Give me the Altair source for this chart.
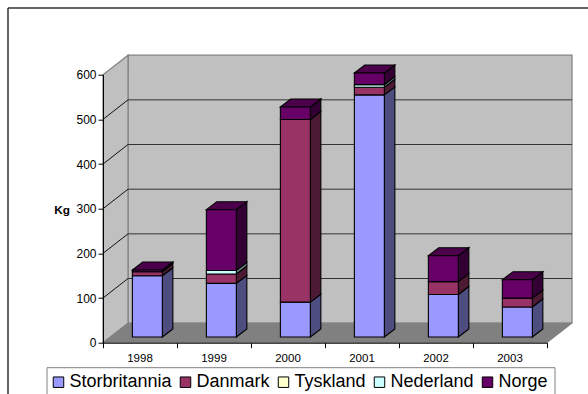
import altair as alt
import pandas as pd

# Imported quantity per year and country, in kg
years = ["1998", "1999", "2000", "2001", "2002", "2003"]
countries = ["Storbritannia", "Danmark", "Tyskland", "Nederland", "Norge"]
storbritannia = [137, 120, 78, 542, 95, 67]
danmark = [9, 21, 409, 17, 29, 20]
tyskland = [0, 0, 0, 0, 0, 0]
nederland = [0, 8, 0, 6, 0, 0]
norge = [4, 136, 28, 26, 58, 41]
series = [storbritannia, danmark, tyskland, nederland, norge]
front_colors = ["#9999FF", "#993366", "#FFFFCC", "#CCFFFF", "#660066"]
side_colors = ["#4D4D80", "#4D1A33", "#808066", "#668080", "#330033"]
top_color = "#4C004C"

y_ticks = [0, 100, 200, 300, 400, 500, 600]
y_top = 600

# Oblique projection, expressed in axis units (category slots and kg)
wall_dx, wall_dy = 0.338, 43.7
bar_left, bar_width = 0.397, 0.405
bar_dx, bar_dy = 0.142, 17.9
bar_base = 12.8

n = len(years)
year_lookup = "[" + ",".join(f"'{y}'" for y in years) + "]"

# Both axes sit on the front plane of the chart
X = alt.X(
    "x:Q",
    scale=alt.Scale(domain=[0, n], nice=False, zero=False),
    axis=alt.Axis(
        values=list(range(n + 1)),
        labelExpr=f"{year_lookup}[datum.value] || ''",
        labelOffset=36.5,
        labelFlush=False,
        labelOverlap=False,
        labelFont="Liberation Sans",
        labelFontSize=11.5,
        labelColor="black",
        labelPadding=5,
        tickSize=5,
        tickColor="black",
        domainColor="black",
        grid=False,
        title=None,
        zindex=1,
    ),
)
Y = alt.Y(
    "y:Q",
    scale=alt.Scale(domain=[0, y_top], nice=False, zero=False),
    axis=alt.Axis(
        values=y_ticks,
        labelFont="Liberation Sans",
        labelFontSize=12,
        labelColor="black",
        labelPadding=2,
        tickSize=5,
        tickColor="black",
        domainColor="black",
        grid=False,
        title="Kg",
        titleFont="Liberation Sans",
        titleFontSize=11.8,
        titleFontWeight="bold",
        titleColor="black",
        titleAngle=0,
        titleAlign="center",
        titleBaseline="middle",
        titleX=-41.5,
        titleY=134.3,
        zindex=1,
    ),
)

# Walls and floor
back_df = pd.DataFrame([{"x": wall_dx, "x2": n + wall_dx, "y": wall_dy, "y2": y_top + wall_dy}])
back = alt.Chart(back_df).mark_rect(fill="#C0C0C0", stroke="#808080", strokeWidth=1.2).encode(
    x=X, x2="x2:Q", y=Y, y2="y2:Q"
)
side_df = pd.DataFrame([
    {"x": 0, "y": 0, "y2": y_top},
    {"x": wall_dx, "y": wall_dy, "y2": y_top + wall_dy},
])
side_wall = alt.Chart(side_df).mark_area(fill="#C0C0C0", stroke="#808080", strokeWidth=1.2).encode(
    x=X, y=Y, y2="y2:Q"
)
floor_df = pd.DataFrame([
    {"x": 0, "x2": n, "y": 0},
    {"x": wall_dx, "x2": n + wall_dx, "y": wall_dy},
])
floor = alt.Chart(floor_df).mark_area(
    orient="horizontal", fill="#808080", stroke="#808080", strokeWidth=1
).encode(x=X, x2="x2:Q", y=Y)

# Gridlines along the back wall and across the side wall
back_grid_df = pd.DataFrame(
    [{"x": wall_dx, "x2": n + wall_dx, "y": t + wall_dy, "y2": t + wall_dy} for t in y_ticks[1:-1]]
)
side_grid_df = pd.DataFrame(
    [{"x": 0, "x2": wall_dx, "y": t, "y2": t + wall_dy} for t in y_ticks[1:-1]]
)
grid_back = alt.Chart(back_grid_df).mark_rule(color="#333333", strokeWidth=1).encode(
    x=X, x2="x2:Q", y=Y, y2="y2:Q"
)
grid_side = alt.Chart(side_grid_df).mark_rule(color="#111111", strokeWidth=1).encode(
    x=X, x2="x2:Q", y=Y, y2="y2:Q"
)

# Stacked segments per year
fronts, sides, tops = [], [], []
for i, year in enumerate(years):
    base = bar_base
    left = i + bar_left
    right = left + bar_width
    last = max(k for k in range(len(countries)) if series[k][i] > 0)
    for k, country in enumerate(countries):
        value = series[k][i]
        if value <= 0:
            continue
        fronts.append({"x": left, "x2": right, "y": base, "y2": base + value, "country": country})
        key = f"{year}-{country}"
        sides.append({"x": right, "y": base, "y2": base + value, "key": key, "shade": side_colors[k]})
        sides.append({"x": right + bar_dx, "y": base + bar_dy, "y2": base + value + bar_dy,
                      "key": key, "shade": side_colors[k]})
        if k == last:
            top = base + value
            tops.append({"x": left, "x2": right, "y": top, "key": year})
            tops.append({"x": left + bar_dx, "x2": right + bar_dx, "y": top + bar_dy, "key": year})
        base += value

side_faces = alt.Chart(pd.DataFrame(sides)).mark_area(stroke="black", strokeWidth=1.1).encode(
    x=X, y=Y, y2="y2:Q", detail="key:N", fill=alt.Fill("shade:N", scale=None, legend=None)
)
top_faces = alt.Chart(pd.DataFrame(tops)).mark_area(
    orient="horizontal", fill=top_color, stroke="black", strokeWidth=1.1
).encode(x=X, x2="x2:Q", y=Y, detail="key:N")
front_faces = alt.Chart(pd.DataFrame(fronts)).mark_rect(stroke="black", strokeWidth=1.1).encode(
    x=X, x2="x2:Q", y=Y, y2="y2:Q",
    color=alt.Color(
        "country:N",
        scale=alt.Scale(domain=countries, range=front_colors),
        sort=countries,
        legend=alt.Legend(
            title=None,
            orient="none",
            legendX=-56.5,
            legendY=292.5,
            direction="horizontal",
            columns=5,
            columnPadding=5,
            symbolType="square",
            symbolSize=110,
            symbolOffset=-3,
            symbolStrokeColor="black",
            symbolStrokeWidth=1,
            labelFont="Liberation Sans",
            labelFontSize=18,
            labelColor="black",
            labelOffset=2,
            labelLimit=200,
            strokeColor="#808080",
            fillColor="white",
            padding=6,
        ),
    ),
)

# Chart frame, running off the right and bottom of the canvas
frame_top = alt.Chart(pd.DataFrame({"a": [0]})).mark_rule(color="#333333", strokeWidth=1.5).encode(
    x=alt.value(-95), x2=alt.value(500), y=alt.value(-66.7)
)
frame_left = alt.Chart(pd.DataFrame({"a": [0]})).mark_rule(color="#333333", strokeWidth=1.5).encode(
    x=alt.value(-95), y=alt.value(-66.7), y2=alt.value(330)
)

chart = alt.layer(
    frame_top, frame_left, back, side_wall, floor, grid_back, grid_side,
    side_faces, top_faces, front_faces,
).properties(
    width=444,
    height=268,
    background="white",
    padding={"left": 103, "top": 74.7, "right": 41, "bottom": 51.3},
    autosize=alt.AutoSizeParams(type="none"),
).configure_view(stroke=None)

chart.save("out.html", embed_options={"renderer": "svg", "actions": False})
